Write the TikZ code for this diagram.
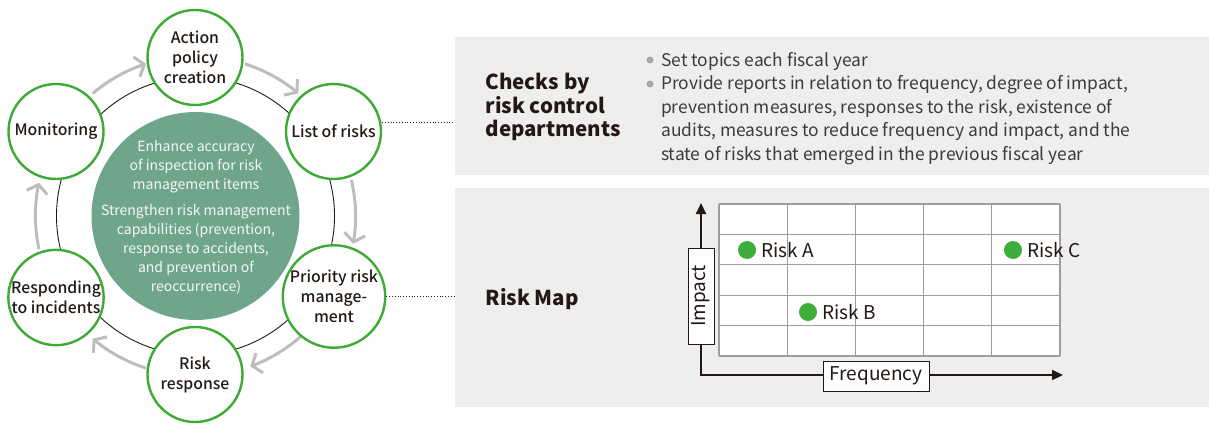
\documentclass[tikz,border=0pt]{standalone}
\usepackage{fontspec}
\setmainfont{Noto Sans CJK JP}
\newfontfamily\medfont{Noto Sans CJK JP Medium}
\usetikzlibrary{arrows.meta,calc}
\definecolor{ink}{HTML}{231815}
\definecolor{txt}{HTML}{3E3A39}
\definecolor{gring}{HTML}{3DAA35}
\definecolor{gdot}{HTML}{3EAE3A}
\definecolor{disk}{HTML}{6FA68B}
\definecolor{panel}{HTML}{EEEEEE}
\definecolor{arrowgray}{HTML}{BDBDBD}
\definecolor{gridgray}{HTML}{9E9E9E}
\tikzset{
  stage/.style={circle, draw=gring, line width=2.4pt, fill=white, minimum size=95pt, inner sep=0pt,
    align=center, text=ink, font=\medfont\fontsize{15.8}{20}\selectfont},
  cyclearrow/.style={draw=arrowgray, line width=3pt, -{Straight Barb[length=8pt,width=21pt]}},
  dotline/.style={draw=ink, line width=0.8pt, dotted},
  panelbox/.style={fill=panel, draw=none},
  heading/.style={anchor=west, align=left, text=ink, font=\bfseries\fontsize{20.5}{23.5}\selectfont},
  bullettext/.style={anchor=north west, align=left, text=txt, font=\fontsize{17.4}{23.5}\selectfont, inner sep=0pt},
  bulletdot/.style={circle, fill=gray!70, minimum size=7pt, inner sep=0pt},
  gridline/.style={draw=gridgray, line width=1.3pt},
  axis/.style={draw=ink, line width=2pt},
  axislabel/.style={draw=ink, line width=1pt, fill=white, text=ink, font=\fontsize{19}{20}\selectfont, inner sep=0pt},
  riskdot/.style={circle, fill=gdot, minimum size=18pt, inner sep=0pt},
  risklabel/.style={anchor=west, text=ink, font=\fontsize{19}{20}\selectfont, inner sep=0pt},
}
\begin{document}
\begin{tikzpicture}[x=1pt,y=-1pt]
\useasboundingbox (0,0) rectangle (1209,423);
% ring
\coordinate (c) at (195.5,216);
\draw[ink, line width=0.9pt] (c) circle[radius=139pt];
\node[circle, fill=disk, minimum size=208pt, inner sep=0pt] (core) at (c) {};
\node[align=center, text=white!92!disk, font=\fontsize{14}{19}\selectfont] (coretext) at (196,217)
  {Enhance accuracy\\of inspection for risk\\management items\\[7pt]Strengthen risk management\\capabilities (prevention,\\response to accidents,\\and prevention of\\reoccurrence)};
% cycle arrows
\draw[cyclearrow] ($(c)+(130:160pt)$) arc[start angle=130, end angle=108, radius=160pt];
\draw[cyclearrow] ($(c)+(72:160pt)$) arc[start angle=72, end angle=50, radius=160pt];
\draw[cyclearrow] ($(c)+(13:160pt)$) arc[start angle=13, end angle=-10, radius=160pt];
\draw[cyclearrow] ($(c)+(-48:160pt)$) arc[start angle=-48, end angle=-70, radius=160pt];
\draw[cyclearrow] ($(c)+(-108:160pt)$) arc[start angle=-108, end angle=-130, radius=160pt];
\draw[cyclearrow] ($(c)+(-168:160pt)$) arc[start angle=-168, end angle=-192, radius=160pt];
% stages
\node[stage] (act) at (195,57.5) {Action\\policy\\creation};
\node[stage] (list) at (333.5,131.5) {List of risks};
\node[stage] (prio) at (334,296.5) {Priority risk\\manage-\\ment};
\node[stage] (resp) at (195,374.5) {Risk\\response};
\node[stage] (inc) at (56,297.5) {Responding\\to incidents};
\node[stage] (mon) at (56,131.5) {Monitoring};
% panels
\path[panelbox] (455,37) rectangle (1209,175);
\path[panelbox] (455,188) rectangle (1209,407);
\coordinate (p1) at (455,37);
\coordinate (p2) at (455,188);
\draw[dotline] ([yshift=9.5pt]list.east) coordinate (d1) -- (d1 -| p1);
\draw[dotline] (prio.east) -- (prio.east -| p2);
\node[heading] (checks) at (482,107) {Checks by\\risk control\\departments};
\node[heading] (riskmap) at (482,299) {Risk Map};
% bullets
\node[bulletdot] (b1) at (650,60) {};
\node[bulletdot] (b2) at (650,84) {};
\node[bullettext] (t1) at (661,52) {Set topics each fiscal year\\Provide reports in relation to frequency, degree of impact,\\prevention measures, responses to the risk, existence of\\audits, measures to reduce frequency and impact, and the\\state of risks that emerged in the previous fiscal year};
% risk map grid
\fill[white] (719,204) rectangle (1060,356);
\foreach \i in {0,...,5} {
  \draw[gridline] ({719+\i*68.2},204) -- ({719+\i*68.2},356);
  \draw[gridline] (719,{204+\i*30.4}) -- (1060,{204+\i*30.4});
}
% axes
\coordinate (o) at (701,375);
\coordinate (ytip) at (701,203);
\coordinate (xtip) at (1063,375);
\draw[axis, {Triangle[length=11pt,width=10pt]}-{Triangle[length=11pt,width=10pt]}] (ytip) |- (xtip);
\node[axislabel, rotate=90, minimum width=96pt, minimum height=26pt] (impact) at (701,296) {Impact};
\node[axislabel, minimum width=106pt, minimum height=30pt] (freq) at (876,376) {Frequency};
% risks
\node[riskdot] (ra) at (747,250) {};
\node[risklabel] (la) at (761,250) {Risk A};
\node[riskdot] (rb) at (808,312) {};
\node[risklabel] (lb) at (822,312) {Risk B};
\node[riskdot] (rc) at (1013,250) {};
\node[risklabel] (lc) at (1027,250) {Risk C};
\end{tikzpicture}
\end{document}
